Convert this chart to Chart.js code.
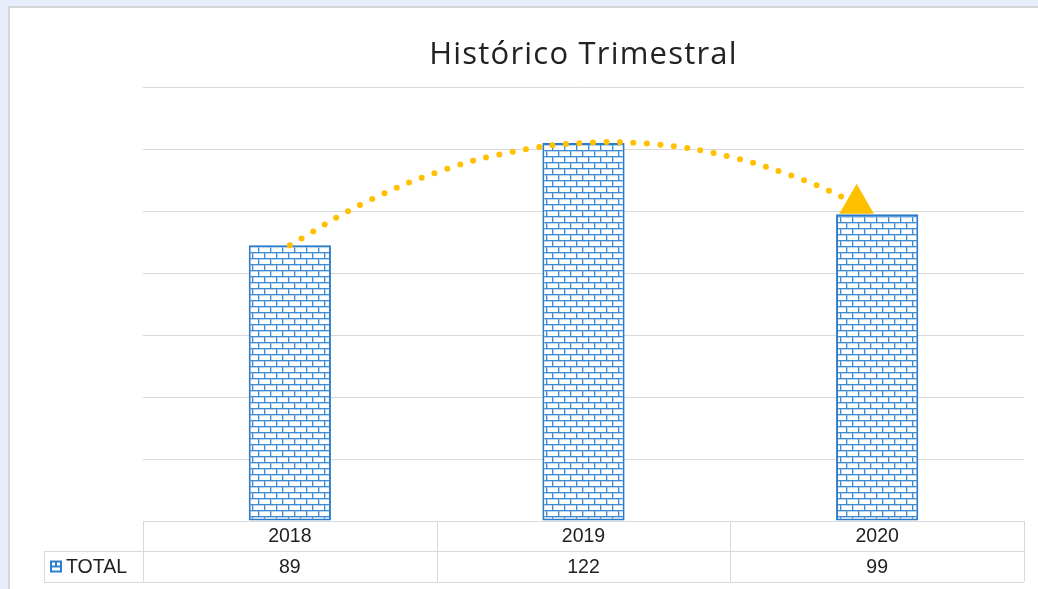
<!DOCTYPE html>
<html>
<head>
<meta charset="utf-8">
<script src="https://cdn.jsdelivr.net/npm/chart.js@4/dist/chart.umd.min.js"></script>
<style>
  html, body { margin: 0; padding: 0; width: 1038px; height: 589px; overflow: hidden; background: #e6eefc; }
  #panel { position: absolute; left: 8px; top: 6px; width: 1100px; height: 700px; background: #fff; border: 2px solid #d6d6d6; box-sizing: border-box; }
  #wrap { position: absolute; left: 0; top: 0; width: 1038px; height: 589px; }
</style>
</head>
<body>
<div id="panel"></div>
<div id="wrap"><canvas id="c" width="1038" height="589"></canvas></div>
<script>
// ---- data ----
const categories = ['2018', '2019', '2020'];
const seriesName = 'TOTAL';
const totals = [89, 122, 99];
// trend line (polynomial trend), x in category index units
const trendX = [0, 0.25, 0.5, 0.75, 1, 1.25, 1.5, 1.75, 1.93];
const trendY = [89, 102.5, 112.5, 119, 122, 121.5, 117.5, 110, 102.4];
const chartTitle = 'Histórico Trimestral';

// ---- brick pattern ----
function brickPattern() {
  const p = document.createElement('canvas');
  p.width = 12; p.height = 12;
  const g = p.getContext('2d');
  g.fillStyle = '#ffffff';
  g.fillRect(0, 0, 12, 12);
  g.fillStyle = '#b9d5f0';
  g.fillRect(0, 1, 12, 1);
  g.fillRect(0, 7, 12, 1);
  g.fillRect(1, 1, 1, 5);
  g.fillRect(7, 7, 1, 5);
  g.fillStyle = '#3f8bd3';
  g.fillRect(0, 0, 12, 1);
  g.fillRect(0, 6, 12, 1);
  g.fillRect(0, 0, 1, 6);
  g.fillRect(6, 6, 1, 6);
  return g.createPattern(p, 'repeat');
}

const spacingPlugin = {
  id: 'titleSpacing',
  beforeDraw(chart) { chart.ctx.letterSpacing = '1.2px'; },
  beforeDatasetsDraw(chart) { chart.ctx.letterSpacing = '0px'; }
};

const tablePlugin = {
  id: 'dataTable',
  afterDraw(chart) {
    const ctx = chart.ctx;
    const ca = chart.chartArea;
    const xs = chart.scales.x;
    const n = categories.length;
    const w = (ca.right - ca.left) / n;
    const top = ca.bottom, mid = ca.bottom + 30, bot = ca.bottom + 61;
    const legLeft = 44;
    ctx.save();
    ctx.letterSpacing = '0px';
    ctx.strokeStyle = '#d9d9d9';
    ctx.lineWidth = 1;
    ctx.beginPath();
    ctx.moveTo(ca.left, top + 0.5); ctx.lineTo(ca.right, top + 0.5);
    ctx.moveTo(legLeft, mid + 0.5); ctx.lineTo(ca.right, mid + 0.5);
    ctx.moveTo(legLeft, bot + 0.5); ctx.lineTo(ca.right, bot + 0.5);
    ctx.moveTo(legLeft + 0.5, mid); ctx.lineTo(legLeft + 0.5, bot);
    for (let i = 0; i <= n; i++) {
      const x = Math.round(ca.left + i * w) + 0.5;
      ctx.moveTo(x, top); ctx.lineTo(x, bot);
    }
    ctx.stroke();
    ctx.fillStyle = '#1f1f1f';
    ctx.font = '19.5px "Liberation Sans", Arial, sans-serif';
    ctx.textAlign = 'center';
    ctx.textBaseline = 'middle';
    for (let i = 0; i < n; i++) {
      const cx = xs.getPixelForValue(i);
      ctx.fillText(categories[i], cx, (top + mid) / 2 + 1);
      ctx.fillText(String(totals[i]), cx, (mid + bot) / 2 + 1);
    }
    // legend key
    const kx = 50, ky = (mid + bot) / 2 - 5;
    ctx.strokeStyle = '#2f7fd0';
    ctx.lineWidth = 2;
    ctx.strokeRect(kx + 1, ky, 10, 10);
    ctx.beginPath();
    ctx.moveTo(kx + 1, ky + 5); ctx.lineTo(kx + 11, ky + 5);
    ctx.moveTo(kx + 6, ky); ctx.lineTo(kx + 6, ky + 5);
    ctx.stroke();
    ctx.textAlign = 'left';
    ctx.fillText(seriesName, 66, (mid + bot) / 2 + 1);
    ctx.restore();
  }
};

const ctx = document.getElementById('c').getContext('2d');
new Chart(ctx, {
  data: {
    labels: categories,
    datasets: [
      {
        type: 'line',
        label: 'trend',
        xAxisID: 'xt',
        data: trendX.map((x, i) => ({ x: x, y: trendY[i] })),
        borderColor: '#FFC000',
        borderWidth: 6,
        borderDash: [0, 13.5],
        borderCapStyle: 'round',
        tension: 0.4,
        fill: false,
        clip: false,
        pointStyle: 'triangle',
        pointRadius: trendX.map((x, i) => i === trendX.length - 1 ? 20 : 0),
        pointBackgroundColor: '#FFC000',
        pointBorderWidth: 0,
        order: 0
      },
      {
        type: 'bar',
        label: seriesName,
        data: totals,
        backgroundColor: brickPattern(),
        borderColor: '#2b7bc9',
        borderWidth: 2,
        borderSkipped: false,
        grouped: false,
        categoryPercentage: 1,
        barPercentage: 0.28,
        order: 1
      }
    ]
  },
  options: {
    responsive: false,
    animation: false,
    layout: { autoPadding: false, padding: { left: 143, right: 14, top: 0, bottom: 68 } },
    plugins: {
      legend: { display: false },
      tooltip: { enabled: false },
      title: {
        display: true,
        text: chartTitle,
        color: '#222222',
        font: { family: '"Open Sans", sans-serif', size: 31, weight: 'normal' },
        padding: { top: 37, bottom: 13 }
      }
    },
    scales: {
      x: { type: 'category', display: false, offset: true },
      xt: { type: 'linear', display: false, min: -0.5, max: 2.5 },
      y: {
        min: 0, max: 140,
        ticks: { stepSize: 20, display: false },
        border: { display: false },
        grid: { color: '#d9d9d9', drawTicks: false }
      }
    }
  },
  plugins: [spacingPlugin, tablePlugin]
});
</script>
</body>
</html>
